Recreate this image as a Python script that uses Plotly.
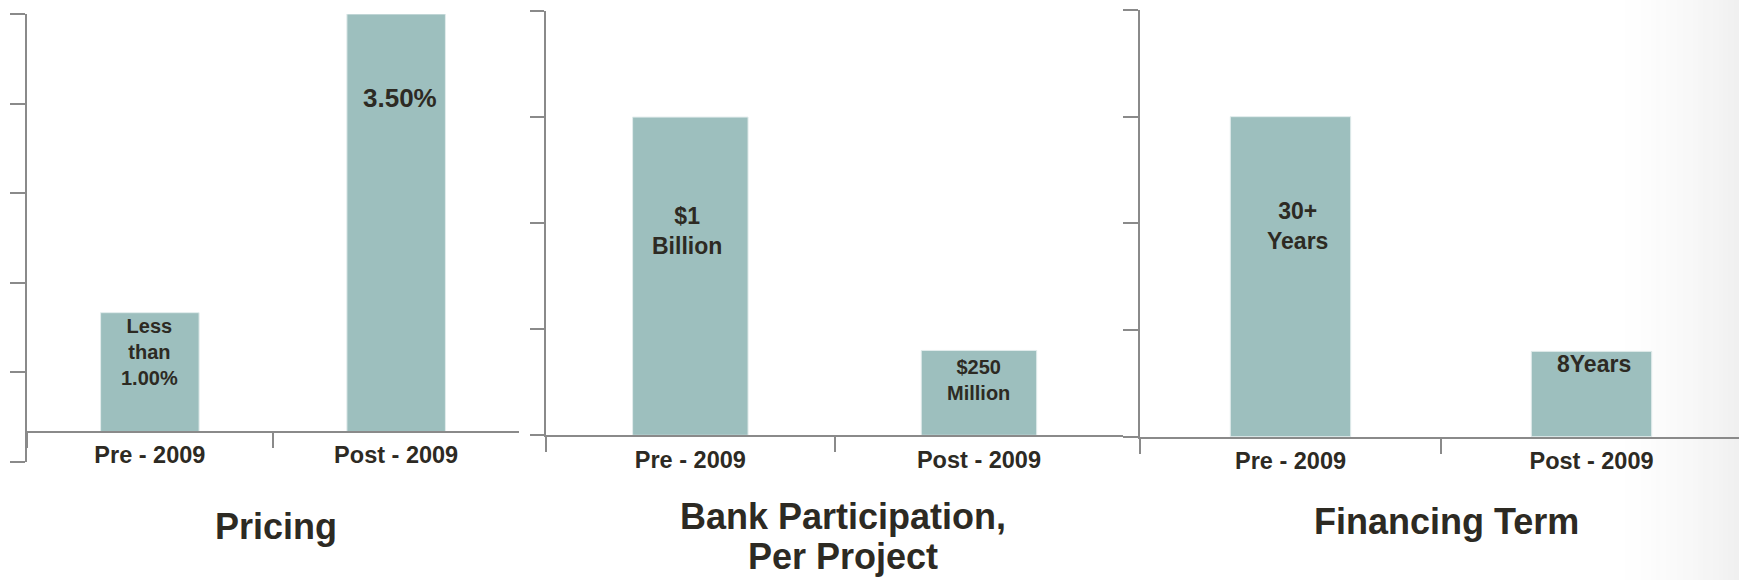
import numpy as np
import plotly.graph_objects as go

# ---------------- data ----------------
categories = ["Pre - 2009", "Post - 2009"]
pricing_values = [1.0, 3.5]
bank_values = [3.0, 0.8]
term_values = [3.0, 0.8]
pricing_labels = ["Less<br>than<br>1.00%", "3.50%"]
bank_labels = ["$1<br>Billion", "$250<br>Million"]
term_labels = ["30+<br>Years", "8Years"]
panel_titles = [["Pricing"], ["Bank Participation,", "Per Project"], ["Financing Term"]]

# ---------------- style ----------------
W, H = 1739, 580
BAR = "#9DBFBE"
AXIS = "#8A8A8A"
TEXT = "#2D2A23"
FONT = "Liberation Sans, Arial, sans-serif"


def fx(p):
    return p / W


def fy(p):
    return 1 - p / H


panels = [
    dict(vals=pricing_values, labels=pricing_labels,
         xdom=[fx(26.7), fx(519.3)], ydom=[fy(462), fy(14)],
         yrange=[-0.25, 3.5], nticks=6, xrange=[-0.5, 1.5], yticklen=15,
         lab_size=[20, 26], lab_shift=[0, -67], lab_xshift=[0, 4],
         title_x=276, title_y=[(526, "middle")]),
    dict(vals=bank_values, labels=bank_labels,
         xdom=[fx(546), fx(1123.3)], ydom=[fy(435.3), fy(11)],
         yrange=[0, 4], nticks=5, xrange=[-0.5, 1.5], yticklen=14,
         lab_size=[23, 20], lab_shift=[-84, -4], lab_xshift=[-3, 0],
         title_x=843, title_y=[(516, "middle"), (579, "bottom")]),
    dict(vals=term_values, labels=term_labels,
         xdom=[fx(1140), 1.0], ydom=[fy(436.7), fy(10)],
         yrange=[0, 4], nticks=5, xrange=[-0.5, 1.49], yticklen=15,
         lab_size=[23, 23], lab_shift=[-79, 2], lab_xshift=[7, 2],
         title_x=1446, title_y=[(521.7, "middle")]),
]

fig = go.Figure()
annotations = []
layout_axes = {}

for i, p in enumerate(panels, start=1):
    sfx = "" if i == 1 else str(i)
    xa, ya = "x" + sfx, "y" + sfx
    fig.add_trace(go.Bar(
        x=categories, y=p["vals"], width=0.4,
        marker=dict(color=BAR, line=dict(color="#E2ECEC", width=1)),
        xaxis=xa, yaxis=ya, hoverinfo="skip", showlegend=False,
    ))

    r0, r1 = p["yrange"]
    zero_pos = p["ydom"][0] + (0 - r0) / (r1 - r0) * (p["ydom"][1] - p["ydom"][0])
    xaxis = dict(
        domain=p["xdom"], range=p["xrange"], type="category",
        showline=True, linecolor=AXIS, linewidth=2,
        ticks="outside", tickson="boundaries", ticklen=15, tickwidth=2, tickcolor=AXIS,
        showgrid=False, zeroline=False, fixedrange=True, ticklabelstandoff=2,
        tickfont=dict(family=FONT, size=23.5, color=TEXT, weight="bold"),
    )
    if r0 < 0:
        xaxis.update(anchor="free", position=zero_pos)
    else:
        xaxis.update(anchor=ya)
    yaxis = dict(
        domain=p["ydom"], range=p["yrange"], anchor=xa,
        showline=True, linecolor=AXIS, linewidth=2,
        ticks="outside", ticklen=p["yticklen"], tickwidth=2, tickcolor=AXIS,
        tickmode="array", tickvals=list(np.linspace(r0, r1, p["nticks"])),
        showticklabels=False, showgrid=False, zeroline=False, fixedrange=True,
    )
    layout_axes["xaxis" + sfx] = xaxis
    layout_axes["yaxis" + sfx] = yaxis

    for j, cat in enumerate(categories):
        annotations.append(dict(
            xref=xa, yref=ya, x=cat, y=p["vals"][j],
            text="<b>" + p["labels"][j] + "</b>", showarrow=False,
            xanchor="center", yanchor="top", align="center",
            yshift=p["lab_shift"][j], xshift=p["lab_xshift"][j],
            font=dict(family=FONT, size=p["lab_size"][j], color=TEXT),
        ))

    for line, (ty, anchor) in zip(panel_titles[i - 1], p["title_y"]):
        annotations.append(dict(
            xref="paper", yref="paper", x=fx(p["title_x"]), y=fy(ty),
            text="<b>" + line + "</b>", showarrow=False,
            xanchor="center", yanchor=anchor, align="center",
            font=dict(family=FONT, size=36, color=TEXT),
        ))

# soft grey fade at the right edge of the slide
shapes = []
n_strips = 24
x_start = 1615
for k in range(n_strips):
    x0 = x_start + (W - x_start) * k / n_strips
    x1 = x_start + (W - x_start) * (k + 1) / n_strips + 0.5
    t = (k + 0.5) / n_strips
    g = int(round(255 - 15 * t ** 1.4))
    shapes.append(dict(type="rect", xref="paper", yref="paper",
                       x0=fx(x0), x1=fx(x1), y0=0, y1=1,
                       fillcolor=f"rgb({g},{g},{g})", line=dict(width=0),
                       layer="below"))

fig.update_layout(
    width=W, height=H,
    margin=dict(l=0, r=0, t=0, b=0),
    paper_bgcolor="white", plot_bgcolor="rgba(0,0,0,0)",
    showlegend=False,
    annotations=annotations, shapes=shapes,
    **layout_axes,
)

fig.write_html(
    "out.html",
    config={"displayModeBar": False, "staticPlot": True},
    post_script="document.body.style.margin='0';document.body.style.overflow='hidden';",
)
